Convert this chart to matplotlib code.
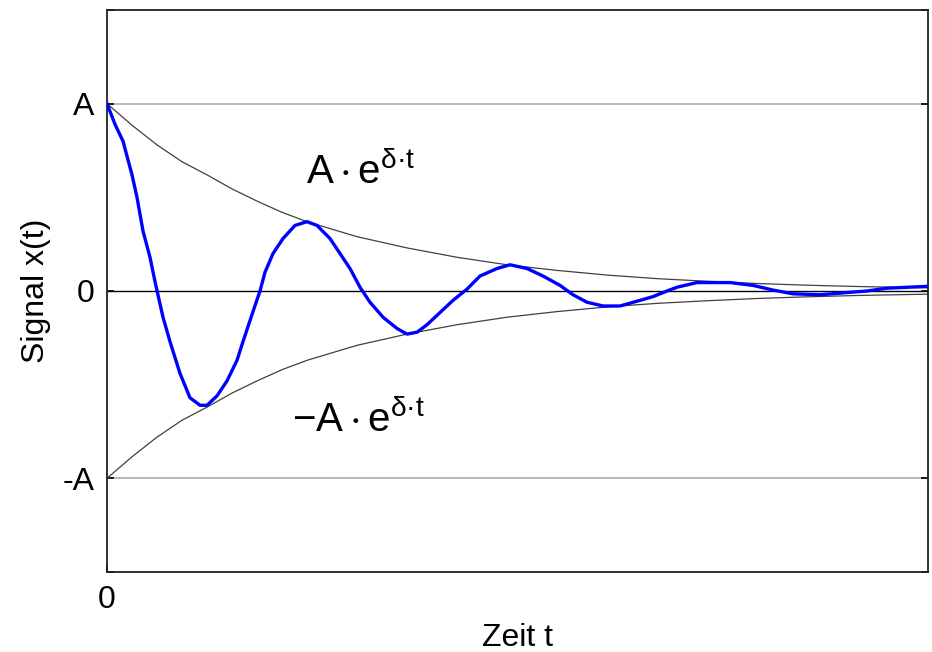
import matplotlib.pyplot as plt

# time axis in arbitrary units (1 unit ~ 100 px in the reference)
t_sig = [0.00, 0.08, 0.16, 0.25, 0.30, 0.36, 0.43, 0.48, 0.56, 0.63,
         0.73, 0.83, 0.93, 1.00, 1.10, 1.20, 1.30, 1.36, 1.46, 1.53,
         1.58, 1.66, 1.76, 1.88, 2.00, 2.10, 2.23, 2.33, 2.43, 2.53,
         2.63, 2.76, 2.90, 3.00, 3.10, 3.20, 3.30, 3.46, 3.60, 3.73,
         3.90, 4.03, 4.20, 4.36, 4.53, 4.66, 4.80, 4.96, 5.13, 5.33,
         5.46, 5.60, 5.70, 5.90, 6.23, 6.46, 6.66, 6.86, 7.13, 7.36,
         7.60, 7.80, 8.21]
x_sig = [1.00, 0.89, 0.80, 0.62, 0.50, 0.32, 0.18, 0.05, -0.14, -0.27,
         -0.44, -0.57, -0.61, -0.61, -0.56, -0.48, -0.37, -0.27, -0.11, 0.00,
         0.10, 0.20, 0.28, 0.35, 0.37, 0.35, 0.28, 0.20, 0.12, 0.02,
         -0.06, -0.14, -0.20, -0.23, -0.22, -0.18, -0.13, -0.05, 0.01, 0.08,
         0.12, 0.14, 0.12, 0.08, 0.03, -0.02, -0.06, -0.08, -0.08, -0.05,
         -0.03, 0.00, 0.02, 0.045, 0.045, 0.03, 0.005, -0.015, -0.02, -0.01,
         0.00, 0.015, 0.025]

t_env = [0.0, 0.25, 0.5, 0.75, 1.0, 1.25, 1.5, 1.75, 2.0, 2.5, 3.0, 3.5,
         4.0, 4.5, 5.0, 5.5, 6.0, 6.5, 7.0, 7.5, 8.0, 8.21]
env = [1.00, 0.885, 0.78, 0.69, 0.62, 0.545, 0.48, 0.42, 0.37, 0.29, 0.23,
       0.18, 0.14, 0.11, 0.085, 0.066, 0.052, 0.040, 0.031, 0.024, 0.019, 0.017]
env_neg = [-v for v in env]

ytick_pos = [-1.5, -1, 0, 1, 1.5]
ytick_lbl = ["", "-A", "0", "A", ""]

plt.rcParams["font.family"] = ["Liberation Sans", "DejaVu Sans"]
plt.rcParams["mathtext.fontset"] = "custom"
plt.rcParams["mathtext.rm"] = "Liberation Sans"
plt.rcParams["mathtext.it"] = "Liberation Sans"

fig = plt.figure(figsize=(9.32, 6.52), dpi=100)
ax = fig.add_axes([107 / 932, 80 / 652, 821 / 932, 562 / 652])

ax.axhline(1, color="#b4b4b4", lw=1.3, zorder=1)
ax.axhline(-1, color="#b4b4b4", lw=1.3, zorder=1)
ax.axhline(0, color="black", lw=1.0, zorder=1)

ax.plot(t_env, env, color="#404040", lw=0.9, zorder=2)
ax.plot(t_env, env_neg, color="#404040", lw=0.9, zorder=2)
ax.plot(t_sig, x_sig, color="#0000ff", lw=2.4, zorder=3,
        solid_joinstyle="round")

ax.set_xlim(0, 8.21)
ax.set_ylim(-1.5, 1.5)
ax.set_xticks([0])
ax.set_xticklabels(["0"])
ax.set_yticks(ytick_pos)
ax.set_yticklabels(ytick_lbl)
ax.tick_params(axis="both", direction="in", length=5, width=1.2,
               labelsize=23, pad=9, right=True)
for sp in ax.spines.values():
    sp.set_linewidth(1.3)
    sp.set_color("#222222")

ax.set_xlabel("Zeit t", fontsize=23, labelpad=6)
ax.set_ylabel("Signal x(t)", fontsize=23, labelpad=8)

ax.text(1.99, 0.569, r"$\mathregular{A\cdot e^{δ·t}}$", fontsize=29,
        ha="left", va="baseline")
ax.text(1.85, -0.755, r"$\mathregular{-A\cdot e^{δ·t}}$", fontsize=29,
        ha="left", va="baseline")

fig.savefig("out.png", dpi=100)
